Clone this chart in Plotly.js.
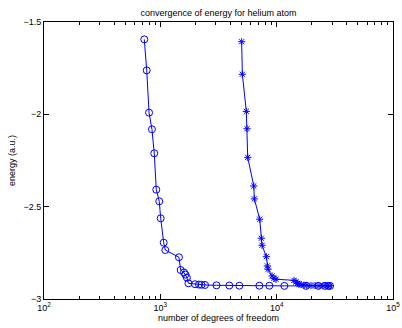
<!DOCTYPE html>
<html>
<head>
<meta charset="utf-8">
<script src="https://cdn.plot.ly/plotly-3.0.1.min.js"></script>
<style>html,body{margin:0;padding:0;background:#fff;}#plot{width:402px;height:328px;}</style>
</head>
<body>
<div id="plot"></div>
<script>
// Series 1: circles
const dofCircles = [728, 764, 800, 847, 887, 923, 979, 1007, 1069, 1104, 1445, 1495, 1596, 1644, 1693, 1744, 1987, 2149, 2259, 2421, 3039, 3917, 4776, 7096, 8651, 11640, 17880, 22800, 26050, 27800, 28760];
const energyCircles = [-1.594, -1.762, -1.991, -2.081, -2.211, -2.408, -2.471, -2.563, -2.695, -2.735, -2.774, -2.843, -2.856, -2.868, -2.885, -2.915, -2.920, -2.922, -2.923, -2.924, -2.926, -2.927, -2.928, -2.928, -2.928, -2.929, -2.929, -2.929, -2.929, -2.929, -2.929];
// Series 2: asterisks
const dofStars = [5000, 5070, 5486, 5563, 5640, 6354, 6432, 7149, 7383, 7486, 8153, 8310, 8433, 9125, 9490, 9870, 14090, 14660, 15160, 15560, 16190, 17170, 18220, 19730, 21370, 23130, 25020, 27080, 28760];
const energyStars = [-1.607, -1.783, -1.984, -2.078, -2.233, -2.388, -2.458, -2.568, -2.671, -2.709, -2.771, -2.821, -2.839, -2.875, -2.888, -2.893, -2.899, -2.908, -2.915, -2.920, -2.922, -2.925, -2.926, -2.927, -2.927, -2.928, -2.928, -2.928, -2.928];
// Ticks
const xTickVals = [100, 1000, 10000, 100000];
const xTickText = ['10<sup>2</sup>', '10<sup>3</sup>', '10<sup>4</sup>', '10<sup>5</sup>'];
const xMinorVals = [200,300,400,500,600,700,800,900,2000,3000,4000,5000,6000,7000,8000,9000,20000,30000,40000,50000,60000,70000,80000,90000];
const yTickVals = [-3, -2.5, -2, -1.5];
const yTickText = ['\u22123', '\u22122.5', '\u22122', '\u22121.5'];

const blue = 'rgb(0,0,255)';
const data = [
  {x: dofCircles, y: energyCircles, type: 'scatter', mode: 'lines+markers',
   line: {color: blue, width: 1},
   marker: {symbol: 'circle-open', size: 7, color: blue, line: {width: 1, color: blue}}},
  {x: dofStars, y: energyStars, type: 'scatter', mode: 'lines+markers',
   line: {color: blue, width: 1},
   marker: {symbol: 'asterisk-open', size: 6, color: blue, line: {width: 1, color: blue}}}
];
const fnt = {family: 'Liberation Sans, Arial, sans-serif', size: 9, color: '#000'};
const layout = {
  width: 402, height: 328,
  margin: {l: 44, r: 9, t: 22, b: 29, pad: 0},
  paper_bgcolor: '#fff', plot_bgcolor: '#fff',
  showlegend: false,
  font: fnt,
  title: {text: 'convergence of energy for helium atom', font: {family: fnt.family, size: 9, color: '#000'}, x: 0.5, xref: 'paper', y: 1, yref: 'paper', yanchor: 'bottom', pad: {b: 6}},
  xaxis: {type: 'log', range: [2, 5], tickmode: 'array', tickvals: xTickVals, ticktext: xTickText,
    ticks: 'inside', ticklen: 5, tickwidth: 1, tickcolor: '#000',
    showline: true, linecolor: '#000', linewidth: 1, mirror: 'ticks', showgrid: false, zeroline: false,
    minor: {tickmode: 'array', tickvals: xMinorVals, ticks: 'inside', ticklen: 3, tickcolor: '#000', showgrid: false},
    tickfont: fnt,
    title: {text: 'number of degrees of freedom', font: fnt, standoff: 2}},
  yaxis: {range: [-3, -1.5], tickmode: 'array', tickvals: yTickVals, ticktext: yTickText,
    ticks: 'inside', ticklen: 5, tickwidth: 1, tickcolor: '#000',
    showline: true, linecolor: '#000', linewidth: 1, mirror: 'ticks', showgrid: false, zeroline: false,
    tickfont: fnt,
    title: {text: 'energy (a.u.)', font: fnt, standoff: 6}}
};
Plotly.newPlot('plot', data, layout, {staticPlot: true, displayModeBar: false});
</script>
</body>
</html>
